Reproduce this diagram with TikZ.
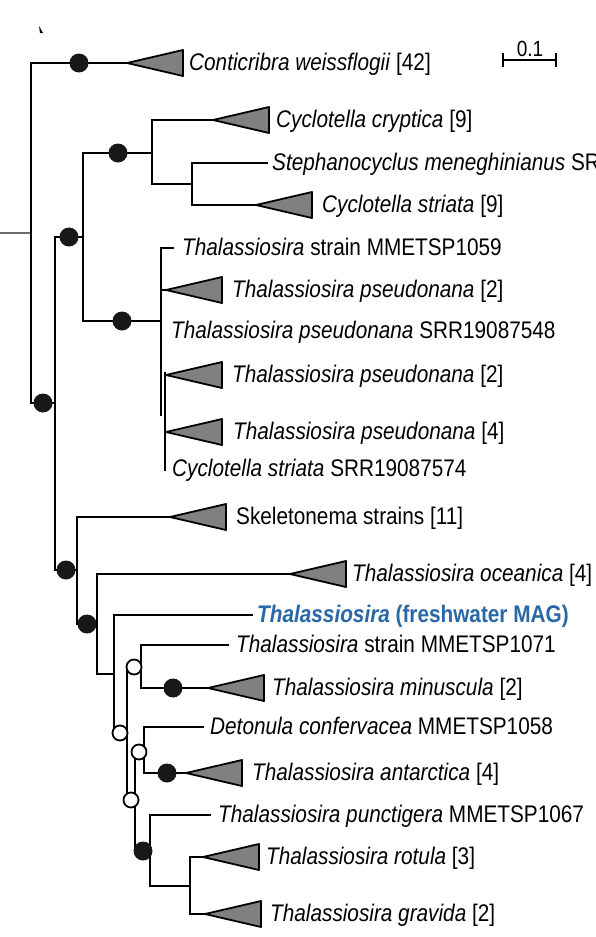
\documentclass[tikz,border=0pt]{standalone}
\usepackage{fontspec}
\setmainfont{Liberation Sans}[FakeStretch=0.865]
\definecolor{cladegray}{RGB}{128,128,128}
\definecolor{dotblack}{RGB}{24,24,24}
\definecolor{magblue}{RGB}{40,104,168}
\definecolor{stubgray}{RGB}{110,110,110}
\begin{document}
\begin{tikzpicture}[x=1pt,y=-1pt,
  br/.style={line width=1.9pt, line cap=rect, draw=black},
  lab/.style={anchor=base west, inner sep=0pt, font=\fontsize{24}{28}\selectfont},
  bs/.style={circle, fill=dotblack, inner sep=0pt, minimum size=19pt},
  os/.style={circle, draw=black, fill=white, line width=1.8pt, inner sep=0pt, minimum size=15pt},
  cladetri/.pic={\draw[fill=cladegray, line width=1.8pt, line join=round] (0,0) -- (56,-13) -- (56,13) -- cycle;}
]
\clip (0,0) rectangle (595,937);
\fill[white] (0,0) rectangle (595,937);

% internal nodes
\coordinate (S) at (0,233);
\coordinate (R) at (31,233);
\coordinate (N1) at (55,403);
\coordinate (N2) at (83,237);
\coordinate (N3) at (77,570);
\coordinate (N4) at (152,153);
\coordinate (N6) at (192,184);
\coordinate (N5) at (161,321);
\coordinate (N5top) at (161,248);
\coordinate (N5bot) at (161,415);
\coordinate (N5b) at (165,373);
\coordinate (N7) at (97,624);
\coordinate (N8) at (114,674);
\coordinate (N9) at (127,733);
\coordinate (N10) at (141,667);
\coordinate (N11) at (135,800);
\coordinate (N12) at (144,752);
\coordinate (N13) at (150,851);
\coordinate (N14) at (190,886);

% leaf ends / triangle tips
\coordinate (Conti) at (127,63);
\coordinate (Crypt) at (213,120);
\coordinate (Steph) at (267,163);
\coordinate (Stri) at (256,205);
\coordinate (L1059) at (173,248);
\coordinate (Pse1) at (166,290);
\coordinate (Pse2) at (166,375);
\coordinate (Pse3) at (166,432);
\coordinate (CS574) at (165,470);
\coordinate (Skel) at (170,517);
\coordinate (Ocean) at (290,574);
\coordinate (MAG) at (252,615);
\coordinate (L1071) at (228,645);
\coordinate (Minus) at (208,688);
\coordinate (Deton) at (203,727);
\coordinate (Antarc) at (186,773);
\coordinate (Punct) at (210,815);
\coordinate (Rotula) at (203,857);
\coordinate (Gravida) at (205,914);

% root stub
\draw[line width=1.3pt, draw=stubgray] (S) -- (R);

% branches
\draw[br] (R) |- (Conti);
\draw[br] (R) |- (N1);
\draw[br] (N1) |- (N2);
\draw[br] (N1) |- (N3);
\draw[br] (N2) |- (N4);
\draw[br] (N2) |- (N5);
\draw[br] (N4) |- (Crypt);
\draw[br] (N4) |- (N6);
\draw[br] (N6) |- (Steph);
\draw[br] (N6) |- (Stri);
\draw[br] (N5top) -- (N5bot);
\draw[br] (N5top) -- (L1059);
\draw[br] (N5) |- (Pse1);
\draw[br] (N5b) |- (Pse2);
\draw[br] (N5b) |- (Pse3);
\draw[br] (N5b) -- (CS574);
\draw[br] (N3) |- (Skel);
\draw[br] (N3) |- (N7);
\draw[br] (N7) |- (Ocean);
\draw[br] (N7) |- (N8);
\draw[br] (N8) |- (MAG);
\draw[br] (N8) |- (N9);
\draw[br] (N9) |- (N10);
\draw[br] (N9) |- (N11);
\draw[br] (N10) |- (L1071);
\draw[br] (N10) |- (Minus);
\draw[br] (N11) |- (N12);
\draw[br] (N11) |- (N13);
\draw[br] (N12) |- (Deton);
\draw[br] (N12) |- (Antarc);
\draw[br] (N13) |- (Punct);
\draw[br] (N13) |- (N14);
\draw[br] (N14) |- (Rotula);
\draw[br] (N14) |- (Gravida);

% collapsed clades
\pic at (Conti) {cladetri};
\pic at (Crypt) {cladetri};
\pic at (Stri) {cladetri};
\pic at (Pse1) {cladetri};
\pic at (Pse2) {cladetri};
\pic at (Pse3) {cladetri};
\pic at (Skel) {cladetri};
\pic at (Ocean) {cladetri};
\pic at (Minus) {cladetri};
\pic at (Antarc) {cladetri};
\pic at (Rotula) {cladetri};
\pic at (Gravida) {cladetri};

% support dots
\node[bs] (d1) at (79,63) {};
\node[bs] (d2) at (118,153) {};
\node[bs] (d3) at (69,237) {};
\node[bs] (d4) at (122,321) {};
\node[bs] (d5) at (43,403) {};
\node[bs] (d6) at (66,570) {};
\node[bs] (d7) at (87,624) {};
\node[bs] (d8) at (173,688) {};
\node[bs] (d9) at (167,773) {};
\node[bs] (d10) at (143,851) {};
\node[os] (o1) at (134,667) {};
\node[os] (o2) at (120,733) {};
\node[os] (o3) at (139,752) {};
\node[os] (o4) at (131,800) {};

% labels
\node[lab] (t1) at (189,70) {\textit{Conticribra weissflogii} [42]};
\node[lab] (t2) at (276,127) {\textit{Cyclotella cryptica} [9]};
\node[lab] (t3) at (272,170) {\textit{Stephanocyclus meneghinianus} SR};
\node[lab] (t4) at (322,212) {\textit{Cyclotella striata} [9]};
\node[lab] (t5) at (182,255) {\textit{Thalassiosira} strain MMETSP1059};
\node[lab] (t6) at (232,297) {\textit{Thalassiosira pseudonana} [2]};
\node[lab] (t7) at (171,338) {\textit{Thalassiosira pseudonana} SRR19087548};
\node[lab] (t8) at (232,382) {\textit{Thalassiosira pseudonana} [2]};
\node[lab] (t9) at (233,439) {\textit{Thalassiosira pseudonana} [4]};
\node[lab] (t10) at (172,476) {\textit{Cyclotella striata} SRR19087574};
\node[lab] (t11) at (236,524) {Skeletonema strains [11]};
\node[lab] (t12) at (352,581) {\textit{Thalassiosira oceanica} [4]};
\node[lab, text=magblue] (t13) at (257,622) {\textbf{\textit{Thalassiosira} (freshwater MAG)}};
\node[lab] (t14) at (236,652) {\textit{Thalassiosira} strain MMETSP1071};
\node[lab] (t15) at (272,695) {\textit{Thalassiosira minuscula} [2]};
\node[lab] (t16) at (210,734) {\textit{Detonula confervacea} MMETSP1058};
\node[lab] (t17) at (252,780) {\textit{Thalassiosira antarctica} [4]};
\node[lab] (t18) at (218,822) {\textit{Thalassiosira punctigera} MMETSP1067};
\node[lab] (t19) at (266,864) {\textit{Thalassiosira rotula} [3]};
\node[lab] (t20) at (270,921) {\textit{Thalassiosira gravida} [2]};

% scale bar
\coordinate (sb1) at (503,60);
\coordinate (sb2) at (556,60);
\draw[line width=1.6pt] (sb1) -- (sb2);
\draw[line width=1.6pt] ([yshift=7pt]sb1) -- ([yshift=-7pt]sb1);
\draw[line width=1.6pt] ([yshift=7pt]sb2) -- ([yshift=-7pt]sb2);
\node[anchor=base, inner sep=0pt, font=\fontsize{22}{26}\selectfont] (sbl) at (530,56) {0.1};

% small mark top-left
\fill[black] (39,26) -- (40,33) -- (43,33) -- cycle;
\end{tikzpicture}
\end{document}
